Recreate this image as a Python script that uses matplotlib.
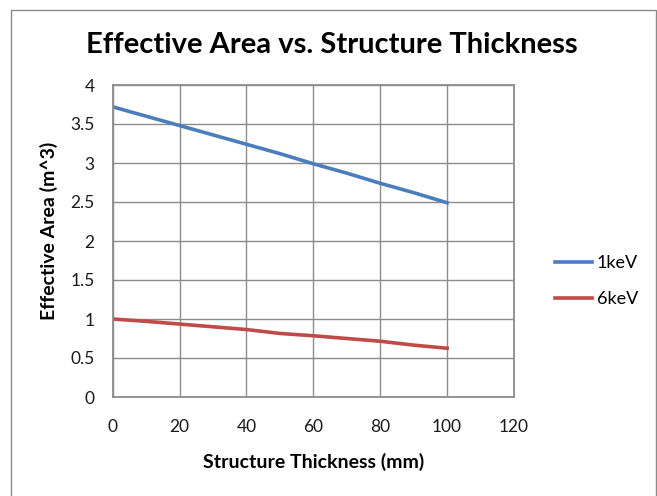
import matplotlib.pyplot as plt
from matplotlib.patches import Rectangle

thickness = [0, 10, 20, 30, 40, 50, 60, 70, 80, 90, 100]
area_1kev = [3.72, 3.60, 3.48, 3.36, 3.24, 3.12, 2.99, 2.87, 2.74, 2.62, 2.49]
area_6kev = [1.00, 0.97, 0.935, 0.90, 0.865, 0.815, 0.785, 0.75, 0.715, 0.665, 0.625]
x_ticks = [0, 20, 40, 60, 80, 100, 120]
y_ticks = [0, 0.5, 1, 1.5, 2, 2.5, 3, 3.5, 4]
y_ticklabels = ['0', '0.5', '1', '1.5', '2', '2.5', '3', '3.5', '4']

plt.rcParams['font.family'] = ['Lato', 'DejaVu Sans']

W, H = 657, 496
fig = plt.figure(figsize=(W / 100, H / 100), dpi=100)
ax = fig.add_axes([112.7 / W, 1 - 397 / H, (514 - 112.7) / W, (397 - 85) / H])

# outer chart frame (runs off the bottom edge)
fig.patches.append(Rectangle((11.3 / W, -0.02), (655.7 - 11.3) / W, 1 - 10 / H + 0.02,
                             transform=fig.transFigure, fill=False,
                             edgecolor='#8a8a8a', linewidth=1.0))

ax.plot(thickness, area_1kev, color='#4A7EBB', lw=2.6, label='1keV')
ax.plot(thickness, area_6kev, color='#BE4B48', lw=2.6, label='6keV')

ax.set_xlim(0, 120)
ax.set_ylim(0, 4)
ax.set_xticks(x_ticks)
ax.set_yticks(y_ticks)
ax.set_yticklabels(y_ticklabels)
ax.tick_params(length=0, labelsize=12.5, colors='#1a1a1a')
ax.tick_params(axis='x', pad=16)
ax.tick_params(axis='y', pad=13)
ax.grid(True, color='#8C8C8C', linewidth=1.0)
ax.set_axisbelow(True)
for s in ax.spines.values():
    s.set_color('#8C8C8C')
    s.set_linewidth(1.3)

ax.set_xlabel('Structure Thickness (mm)', fontsize=14, fontweight='bold', labelpad=13)
ax.set_ylabel('Effective Area (m^3)', fontsize=14, fontweight='bold')
ax.yaxis.set_label_coords(-0.136, 0.534)
fig.text(332 / W, 1 - 53 / H, 'Effective Area vs. Structure Thickness',
         ha='center', va='baseline', fontsize=21, fontweight='bold')

ax.legend(loc='upper left', bbox_to_anchor=(555 / W, 1 - 255 / H),
          bbox_transform=fig.transFigure, frameon=False, borderpad=0,
          borderaxespad=0, fontsize=13, handlelength=2.05, handletextpad=0.25,
          labelspacing=1.12)

fig.savefig('out.png', dpi=100)
